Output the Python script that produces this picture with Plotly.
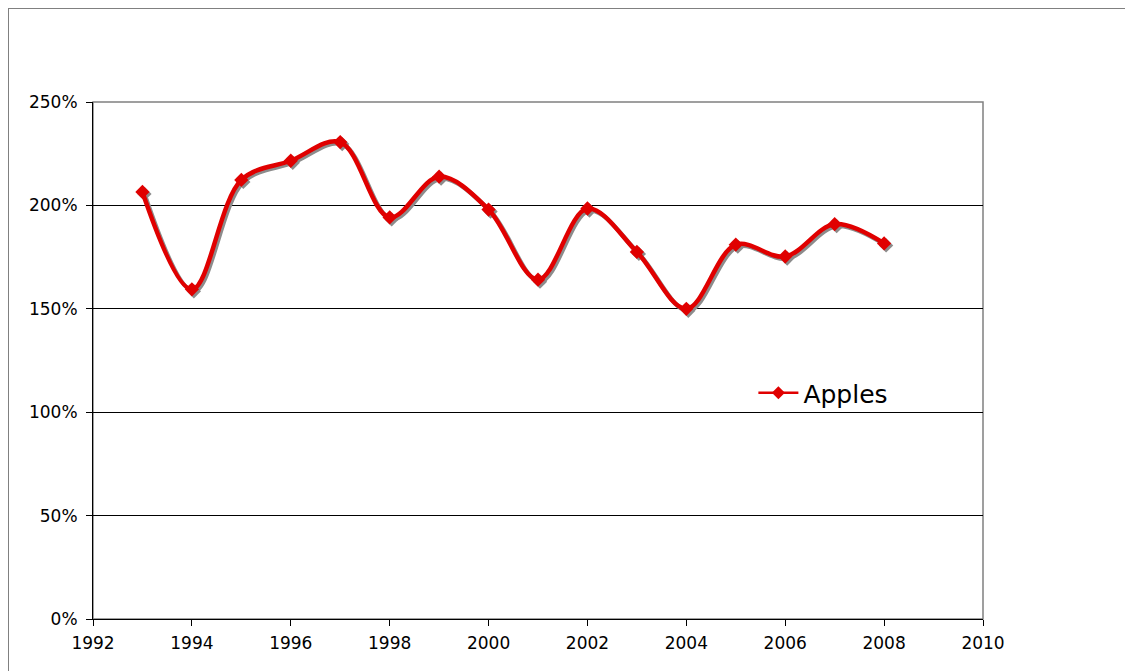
import plotly.graph_objects as go

years = [1993, 1994, 1995, 1996, 1997, 1998, 1999, 2000,
         2001, 2002, 2003, 2004, 2005, 2006, 2007, 2008]
apples = [206.5, 159.4, 212.3, 221.6, 230.6, 194.2, 213.9, 198.0,
          164.1, 198.5, 177.5, 150.0, 181.0, 175.3, 190.9, 181.6]
y_ticks = [0, 50, 100, 150, 200, 250]
y_labels = ["0%", "50%", "100%", "150%", "200%", "250%"]
x_ticks = [1992, 1994, 1996, 1998, 2000, 2002, 2004, 2006, 2008, 2010]
x_labels = ["1992", "1994", "1996", "1998", "2000", "2002", "2004", "2006", "2008", "2010"]

W, H = 1133, 671
L, R, T, B = 85, 158, 94, 60
pw, ph = W - L - R, H - T - B
xr = [1992, 2010]
yr = [0, 250]
dx = (xr[1] - xr[0]) / pw * 2   # shadow shift ~2px right
dy = (yr[1] - yr[0]) / ph * 2   # shadow shift ~2px down

RED = "#E00000"
GRAY = "#8C8C8C"
FONT = "DejaVu Sans"

fig = go.Figure()

# invisible trace so that the visible axes are drawn
fig.add_trace(go.Scatter(
    x=years, y=apples, mode="lines", line=dict(color="rgba(0,0,0,0)", width=0),
    showlegend=False, hoverinfo="skip"))

# shadow
fig.add_trace(go.Scatter(
    x=years, y=apples, xaxis="x2", yaxis="y2",
    mode="lines+markers", line=dict(color=GRAY, width=4.5, shape="spline", smoothing=1),
    marker=dict(symbol="diamond", size=11, color=GRAY),
    showlegend=False, hoverinfo="skip"))

# main series
fig.add_trace(go.Scatter(
    x=years, y=apples, xaxis="x3", yaxis="y3", name="Apples",
    mode="lines+markers", line=dict(color=RED, width=4.5, shape="spline", smoothing=1),
    marker=dict(symbol="diamond", size=11, color=RED), showlegend=False))

# legend entry (thinner glyph, as in the reference)
fig.add_trace(go.Scatter(
    x=[None], y=[None], xaxis="x3", yaxis="y3", name="Apples",
    mode="lines+markers", line=dict(color=RED, width=2.5),
    marker=dict(symbol="diamond", size=10, color=RED), showlegend=True))

hidden = dict(visible=False, showgrid=False, zeroline=False)

fig.update_layout(
    width=W, height=H,
    margin=dict(l=L, r=R, t=T, b=B),
    paper_bgcolor="white", plot_bgcolor="rgba(0,0,0,0)",
    font=dict(family=FONT, size=17, color="#000000"),
    xaxis=dict(range=xr, tickmode="array", tickvals=x_ticks, ticktext=x_labels,
               showgrid=False, zeroline=False, showline=True, linecolor="#000000", linewidth=1,
               ticks="outside", ticklen=6, tickcolor="#000000", tickfont=dict(size=17),
               ticklabelstandoff=3),
    yaxis=dict(range=yr, tickmode="array", tickvals=y_ticks, ticktext=y_labels,
               showgrid=True, gridcolor="#000000", gridwidth=1, zeroline=False,
               showline=True, linecolor="#000000", linewidth=1,
               ticks="outside", ticklen=6, tickcolor="#000000", tickfont=dict(size=17),
               ticklabelstandoff=5),
    xaxis2=dict(overlaying="x", range=[xr[0] - dx, xr[1] - dx], **hidden),
    yaxis2=dict(overlaying="y", range=[yr[0] + dy, yr[1] + dy], **hidden),
    xaxis3=dict(overlaying="x", range=xr, **hidden),
    yaxis3=dict(overlaying="y", range=yr, **hidden),
    legend=dict(x=0.742, y=0.437, xanchor="left", yanchor="middle",
                bgcolor="rgba(0,0,0,0)", font=dict(size=25), itemwidth=40),
    shapes=[
        dict(type="rect", xref="paper", yref="paper", x0=0, y0=0, x1=1, y1=1,
             line=dict(color="#808080", width=1.5), layer="below"),
        dict(type="line", xref="paper", yref="paper",
             x0=-L / pw, x1=-L / pw, y0=-1, y1=1 + T / ph,
             line=dict(color="#808080", width=2)),
        dict(type="line", xref="paper", yref="paper",
             x0=-L / pw, x1=2, y0=1 + T / ph, y1=1 + T / ph,
             line=dict(color="#808080", width=2)),
    ],
)

fig.write_html("out.html")
